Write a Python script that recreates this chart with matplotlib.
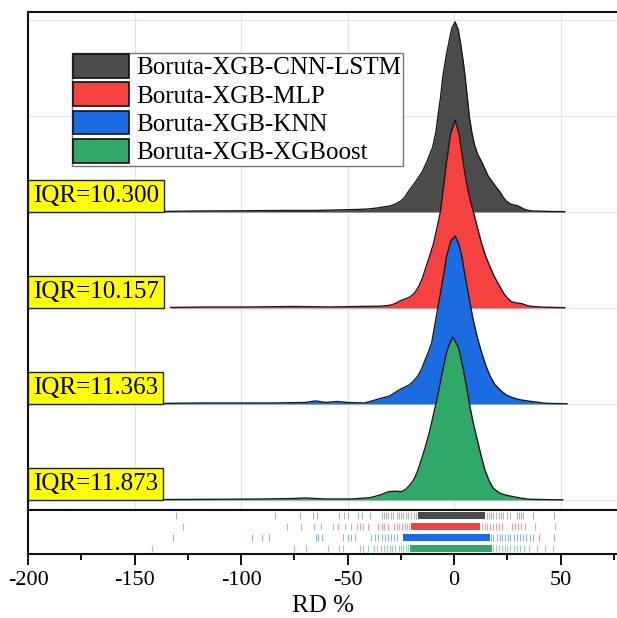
import matplotlib
matplotlib.use('Agg')
from matplotlib import pyplot as plt
from matplotlib.patches import Patch
import matplotlib.transforms as mtransforms
import numpy as np

plt.rcParams['font.family'] = ['Liberation Serif', 'DejaVu Serif']
plt.rcParams['axes.unicode_minus'] = False

models = ['Boruta-XGB-CNN-LSTM', 'Boruta-XGB-MLP', 'Boruta-XGB-KNN', 'Boruta-XGB-XGBoost']
iqr = ['10.300', '10.157', '11.363', '11.873']
colors = ['#4b4b4b', '#f64141', '#1a6ce0', '#2fa868']

# density curves (x in RD %, height in picture units)
x_cnn = [-136, -120, -100, -80, -65, -55, -45, -40, -36, -33, -30, -27.5, -25, -23, -21.6, -19.5, -17.5,
         -15, -12.8, -10, -8.5, -7.6, -6.3, -5.3, -4.3, -3.5, -2.2, -1, 0.5, 2, 3.1, 4.2, 5.2, 6.2, 7.2,
         8.3, 9.5, 11, 13, 16, 19, 21.6, 23, 24.5, 26.5, 28, 29.4, 31, 33, 35, 37, 45, 52]
d_cnn = [0.5, 1, 1.2, 1.5, 1.5, 2, 2.5, 3, 4, 5, 6, 8, 11, 15, 20, 26, 32,
         40, 50, 65, 80, 95, 115, 135, 148, 158, 172, 184, 190, 182, 168, 152, 135, 115, 95,
         80, 68, 58, 50, 36, 27, 20, 15, 11, 8, 7, 6.5, 5, 2.7, 1.5, 1, 0.5, 0.3]

x_mlp = [-133, -115, -95, -75, -58, -45, -35, -30, -27.5, -25.4, -23, -20.7, -18.5, -16.7, -15, -13.6,
         -11, -9.7, -8, -6.5, -5, -3.4, -1.6, 0.5, 2.5, 4.1, 5.3, 6.5, 7.8, 9, 11, 13, 15, 16.9, 19,
         21.6, 23.5, 25, 27.1, 29.5, 31.8, 33.5, 35.7, 42, 52]
d_mlp = [0.5, 1, 1, 1.5, 1, 1.5, 1.7, 2.7, 4.5, 7, 9, 11, 15, 21, 29, 38,
         55, 64, 80, 95, 120, 148, 174, 188, 172, 148, 132, 118, 106, 97, 80, 64, 51, 41, 31,
         21, 14, 10, 6, 5, 4.3, 3, 1.7, 0.8, 0.3]

x_knn = [-137, -120, -100, -85, -70, -65, -60, -55, -50, -42, -38, -35, -30.5, -28, -25.8, -23, -21,
         -19, -17, -15.2, -13.6, -12, -10.5, -8.6, -7.2, -5.8, -4.6, -3.5, -1.5, 0.5, 2.2, 3.6, 4.8,
         6, 7.5, 9, 11, 13, 15, 16.9, 19, 21.6, 24.5, 27.8, 31.5, 35.7, 43.5, 53]
d_knn = [0.5, 1, 1, 1, 1.5, 3, 1.5, 2.5, 1.5, 1, 3.4, 5.3, 7.7, 11, 14, 17, 19,
         23, 28, 35, 44, 52, 61, 84, 101, 118, 133, 148, 163, 168, 160, 148, 133,
         118, 101, 84, 66, 51, 38, 28, 20, 14, 9, 6, 4, 2.7, 0.6, 0.2]

x_xgb = [-148, -130, -110, -90, -75, -70, -60, -48, -39.4, -34.7, -30.8, -27.5, -24.6, -22.5, -20.7,
         -19, -17.5, -16, -14.4, -12.8, -11.3, -9.7, -8.1, -6.5, -5, -3.8, -2.7, -0.6, 2, 3.2, 4.4,
         6, 7.5, 9, 10.6, 12.5, 14.5, 16.5, 18.4, 21.6, 24.5, 27.8, 31.5, 35.6, 45, 51]
d_xgb = [0.3, 0.5, 0.7, 1, 1.5, 2, 1, 1, 2.3, 5, 8.3, 8.8, 8.3, 11, 15,
         20, 26.7, 36, 46.7, 58, 70, 85, 100, 117, 133, 145, 153, 163, 153, 142, 130,
         112, 93, 77, 63, 46, 30, 19, 11.7, 6.7, 4.8, 3.3, 1.8, 0.7, 0.3, 0.2]

curves = [(x_cnn, d_cnn), (x_mlp, d_mlp), (x_knn, d_knn), (x_xgb, d_xgb)]

# rug: single observations and the dense core range
rug_cnn = [-130.5, -83.9, -72.3, -66.0, -64.2, -53.8, -51.5, -49.6, -45.1, -43.0, -39.4, -34.0, -33.0,
           -32.0, -31.0, -29.6, -28.5, -27.0, -26.0, -25.0, -24.0, -22.5, -21.5, -20.0, -19.0, -18.0,
           15.5, 16.5, 17.5, 18.5, 19.5, 21.0, 22.0, 23.0, 24.7, 26.3, 29.4, 30.5, 31.5, 32.5, 37.2, 47.0]
rug_mlp = [-127.4, -78.5, -71.8, -65.7, -62.6, -56.7, -54.3, -51.2, -48.4, -45.7, -44.0, -42.6, -40.2,
           -35.5, -34.0, -32.7, -30.8, -28.0, -27.0, -26.0, -24.5, -23.0, -22.0, -21.0, 13.0, 14.5,
           15.5, 17.0, 18.5, 19.5, 21.0, 22.5, 27.0, 28.5, 30.0, 31.5, 33.3, 38.0, 47.4]
rug_knn = [-132.0, -95.0, -90.3, -86.7, -64.9, -63.7, -62.1, -52.0, -49.6, -48.4, -46.5, -39.0, -37.0,
           -35.5, -34.0, -32.5, -31.0, -29.5, -28.0, -27.0, 17.5, 18.5, 20.0, 21.5, 22.5, 24.0, 25.5,
           26.5, 28.0, 29.5, 31.0, 32.5, 34.0, 35.5, 37.3, 40.0, 47.0]
rug_xgb = [-142.0, -75.0, -69.5, -59.3, -53.8, -52.0, -44.0, -42.6, -40.2, -37.5, -36.0, -34.5, -33.0,
           -31.5, -30.0, -29.0, -27.5, -26.0, -25.0, -24.0, -22.5, -21.5, 18.5, 19.5, 21.0, 22.5, 24.0,
           25.0, 26.5, 28.0, 29.5, 31.0, 33.0, 35.0, 38.8, 42.7, 46.6]
rugs = [rug_cnn, rug_mlp, rug_knn, rug_xgb]
cores = [(-17.0, 14.6), (-20.0, 12.0), (-24.0, 17.0), (-20.6, 17.7)]

fig = plt.figure(figsize=(6.17, 6.18), dpi=100)
ax = fig.add_axes([0.0454, 0.1748, 0.9546, 0.8058])
axr = fig.add_axes([0.0454, 0.1036, 0.9546, 0.0712], sharex=ax)

scale = 1 / 96.0
for i, (xs, ds) in enumerate(curves):
    base = 3 - i
    xs = np.array(xs)
    top = base + np.array(ds) * scale
    ax.fill_between(xs, base, top, color=colors[i], lw=0, zorder=2 + i)
    ax.plot(xs, top, color='#1a1a1a', lw=1.0, zorder=2.5 + i, solid_joinstyle='round')
    offs = mtransforms.offset_copy(ax.transData, fig=fig, x=3.4, y=3.8, units='points')
    ax.text(-200, base, f'IQR={iqr[i]}', transform=offs, fontsize=18, ha='left', va='bottom',
            zorder=10, bbox=dict(boxstyle='square,pad=0.2', fc='#ffff00', ec='#222222', lw=1.0))

ax.set_xlim(-200, 76.5)
ax.set_ylim(-0.104, 5.083)
ax.set_xticks([-150, -100, -50, 0, 50])
ax.set_yticks([0, 1, 2, 3, 4, 5])
ax.grid(True, color='#e3e3e3', lw=0.8, zorder=0)
ax.tick_params(length=0, labelbottom=False, labelleft=False)
for s in ['top', 'left', 'bottom']:
    ax.spines[s].set_linewidth(1.5)
    ax.spines[s].set_color('#111111')
ax.spines['right'].set_visible(False)

handles = [Patch(facecolor=c, edgecolor='#111111', lw=1.2) for c in colors]
leg = ax.legend(handles, models, loc='upper left', bbox_to_anchor=(0.0742, 0.918), fontsize=18,
                frameon=True, fancybox=False, edgecolor='#777777', framealpha=1,
                handlelength=2.25, handleheight=1.08, handletextpad=0.3, labelspacing=0.12,
                borderpad=0.05, borderaxespad=0)
leg.get_frame().set_linewidth(1.0)

# rug rows
for i, vals in enumerate(rugs):
    r = 3 - i
    col = '#6a6a6a' if i == 0 else colors[i]
    axr.vlines(vals, r - 0.32, r + 0.32, color=col, lw=0.8, alpha=0.5)
    lo, hi = cores[i]
    axr.broken_barh([(lo, hi - lo)], (r - 0.32, 0.64), color=colors[i], lw=0)

axr.set_ylim(-0.53, 3.55)
axr.set_yticks([])
axr.set_xticks([-200, -150, -100, -50, 0, 50])
axr.set_xticks([-175, -125, -75, -25, 25, 75], minor=True)
axr.tick_params(axis='x', which='major', direction='out', length=8, width=1.3, labelsize=16, pad=4)
axr.tick_params(axis='x', which='minor', direction='out', length=4, width=1.3)
for s in ['top', 'left', 'bottom']:
    axr.spines[s].set_linewidth(1.5)
    axr.spines[s].set_color('#111111')
axr.spines['right'].set_visible(False)
axr.set_xlabel('RD %', fontsize=18, labelpad=4)

fig.savefig('out.png', dpi=100)
